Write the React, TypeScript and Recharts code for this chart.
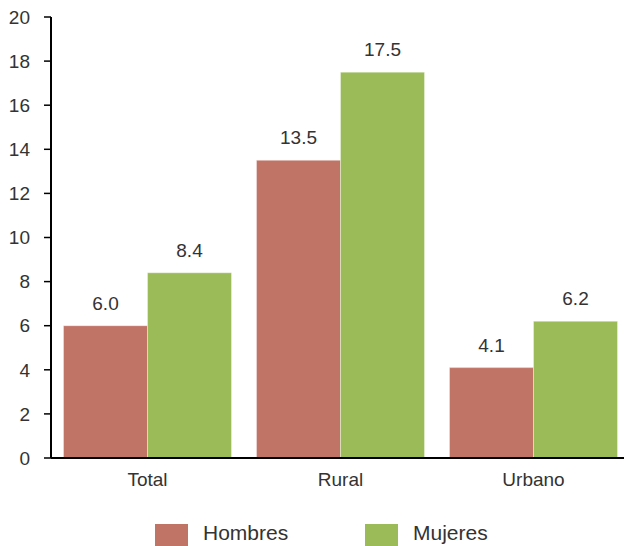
import { Bar, BarChart, LabelList, XAxis, YAxis } from "recharts";

const categories = ["Total", "Rural", "Urbano"];
const hombres = [6.0, 13.5, 4.1];
const mujeres = [8.4, 17.5, 6.2];
const yTicks = [0, 2, 4, 6, 8, 10, 12, 14, 16, 18, 20];

const HOMBRES_COLOR = "#C07466";
const MUJERES_COLOR = "#9BBB59";
const FONT = "'Liberation Sans', Arial, sans-serif";

const data = categories.map((name, i) => ({ name, hombres: hombres[i], mujeres: mujeres[i] }));

const fmt = (v: any) => Number(v).toFixed(1);

export default function App() {
    return (
        <div style={{ position: "absolute", left: 0, top: 0, width: 624, height: 546, overflow: "hidden", fontFamily: FONT }}>
            {/* the plot runs a few px past the right edge, as in the original */}
            <BarChart
                width={630}
                height={546}
                data={data}
                margin={{ top: 17, right: 0, bottom: 58, left: 0 }}
                barCategoryGap={12.5}
                barGap={0}
            >
                <XAxis
                    dataKey="name"
                    height={30}
                    tickLine={false}
                    tickSize={0}
                    tickMargin={15}
                    axisLine={{ stroke: "#000", strokeWidth: 2 }}
                    tick={{ fill: "#333", fontSize: 19, fontFamily: FONT }}
                />
                <YAxis
                    width={51}
                    domain={[0, 20]}
                    ticks={yTicks}
                    interval={0}
                    tickSize={7}
                    tickMargin={14}
                    axisLine={{ stroke: "#000", strokeWidth: 2 }}
                    tickLine={{ stroke: "#000", strokeWidth: 1.5 }}
                    tick={{ fill: "#333", fontSize: 19, fontFamily: FONT }}
                />
                <Bar dataKey="hombres" name="Hombres" fill={HOMBRES_COLOR} stroke="#fff" strokeOpacity={0.35} isAnimationActive={false}>
                    <LabelList dataKey="hombres" position="top" offset={16} formatter={fmt} fill="#333" fontSize={19} fontFamily={FONT} />
                </Bar>
                <Bar dataKey="mujeres" name="Mujeres" fill={MUJERES_COLOR} stroke="#fff" strokeOpacity={0.35} isAnimationActive={false}>
                    <LabelList dataKey="mujeres" position="top" offset={16} formatter={fmt} fill="#333" fontSize={19} fontFamily={FONT} />
                </Bar>
            </BarChart>
            {/* legend drawn by hand so it can sit at the very bottom edge */}
            <div style={{ position: "absolute", left: 155, top: 524, width: 33, height: 24, background: HOMBRES_COLOR }} />
            <div style={{ position: "absolute", left: 203, top: 520, fontSize: 21, color: "#333", lineHeight: "26px" }}>Hombres</div>
            <div style={{ position: "absolute", left: 365, top: 524, width: 33, height: 24, background: MUJERES_COLOR }} />
            <div style={{ position: "absolute", left: 413, top: 520, fontSize: 21, color: "#333", lineHeight: "26px" }}>Mujeres</div>
        </div>
    );
}
